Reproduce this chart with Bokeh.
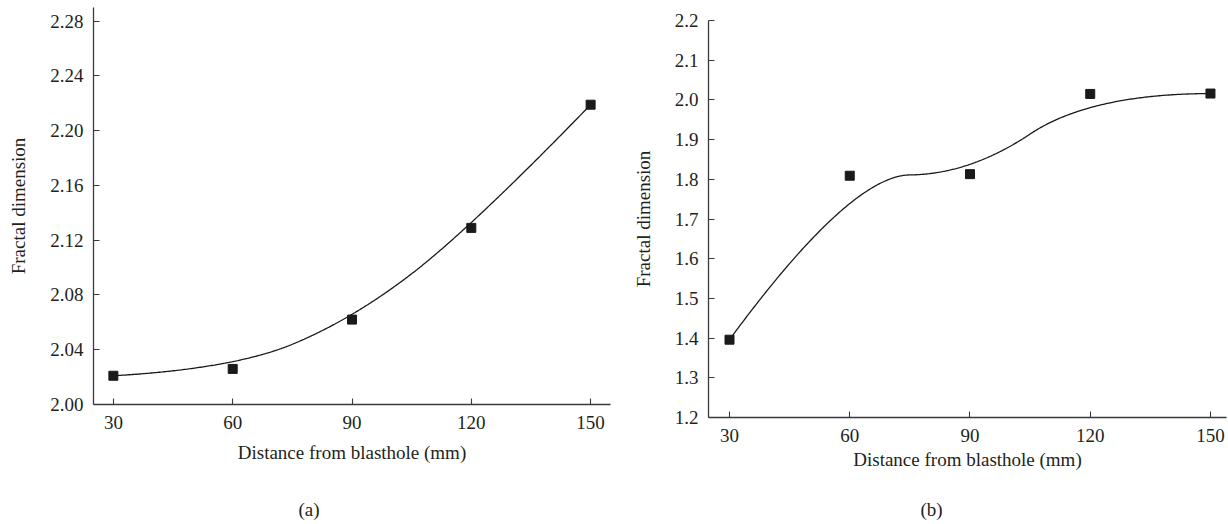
import numpy as np
from bokeh.plotting import figure
from bokeh.layouts import row, column
from bokeh.models import FixedTicker, NumeralTickFormatter, Range1d, Title
from bokeh.embed import file_html
from bokeh.resources import INLINE

# ---- data ----
distance = [30, 60, 90, 120, 150]
fractal_a = [2.021, 2.026, 2.062, 2.129, 2.219]
fractal_b = [1.396, 1.809, 1.813, 2.015, 2.016]
x_ticks = [30, 60, 90, 120, 150]
y_ticks_a = [2.00, 2.04, 2.08, 2.12, 2.16, 2.20, 2.24, 2.28]
y_ticks_b = [1.2, 1.3, 1.4, 1.5, 1.6, 1.7, 1.8, 1.9, 2.0, 2.1, 2.2]
x_title = "Distance from blasthole (mm)"
y_title = "Fractal dimension"
panel_labels = ["(a)", "(b)"]

FONT = "Liberation Serif"
TXT = "#231f20"
FS = "19px"


def bspline(xs, ys, degree=2, n=400):
    """Clamped B-spline using the data points as control points (smooth connection line)."""
    P = np.column_stack([xs, ys]).astype(float)
    m = len(P)
    inner = np.linspace(0, 1, m - degree + 1)
    knots = np.concatenate([[0.0] * degree, inner, [1.0] * degree])
    t = np.linspace(0, 1, n)
    nk = len(knots) - 1
    B = np.zeros((n, nk))
    for i in range(nk):
        B[:, i] = ((knots[i] <= t) & (t < knots[i + 1])).astype(float)
    last = np.where(knots[:-1] < knots[1:])[0][-1]
    B[t >= knots[-1], :] = 0
    B[t >= knots[-1], last] = 1
    for d in range(1, degree + 1):
        Bn = np.zeros((n, nk - d))
        for i in range(nk - d):
            a = knots[i + d] - knots[i]
            b = knots[i + d + 1] - knots[i + 1]
            term = np.zeros(n)
            if a > 0:
                term += (t - knots[i]) / a * B[:, i]
            if b > 0:
                term += (knots[i + d + 1] - t) / b * B[:, i + 1]
            Bn[:, i] = term
        B = Bn
    C = B @ P
    return C[:, 0], C[:, 1]


def style(p, yticks, yfmt, xl_standoff):
    p.outline_line_color = None
    p.grid.visible = False
    p.background_fill_color = "white"
    p.border_fill_color = "white"
    p.xaxis.ticker = FixedTicker(ticks=x_ticks)
    p.yaxis.ticker = FixedTicker(ticks=yticks)
    p.yaxis.formatter = NumeralTickFormatter(format=yfmt)
    for ax in (p.xaxis, p.yaxis):
        ax.axis_line_color = "#3a3a3a"
        ax.axis_line_width = 1.3
        ax.major_tick_line_color = "#3a3a3a"
        ax.major_tick_line_width = 1.1
        ax.major_tick_in = 6
        ax.major_tick_out = 0
        ax.minor_tick_line_color = None
        ax.major_label_text_font = FONT
        ax.major_label_text_font_size = FS
        ax.major_label_text_color = TXT
        ax.axis_label_text_font = FONT
        ax.axis_label_text_font_size = FS
        ax.axis_label_text_font_style = "normal"
        ax.axis_label_text_color = TXT
    p.xaxis.axis_label = x_title
    p.yaxis.axis_label = y_title
    p.xaxis.major_label_standoff = 11
    p.xaxis.axis_label_standoff = xl_standoff
    p.yaxis.major_label_standoff = 10
    p.yaxis.axis_label_standoff = 18


def add_panel_label(p, text, offset, gap):
    # blank spacer, then the panel letter
    p.add_layout(Title(text=" ", standoff=gap, text_font=FONT, text_font_size=FS), "below")
    p.add_layout(Title(text=text, align="left", offset=offset, standoff=0,
                       text_font=FONT, text_font_size=FS, text_font_style="normal",
                       text_color=TXT), "below")


# ---- panel (a) ----
pa = figure(width=620, height=522, x_range=Range1d(25, 155), y_range=Range1d(2.0, 2.29),
            output_backend="svg", toolbar_location=None,
            min_border_left=93, min_border_right=10, min_border_top=7, min_border_bottom=118)
style(pa, y_ticks_a, "0.00", 10)
cx, cy = bspline(distance, fractal_a)
pa.line(cx, cy, line_color="#1a1a1a", line_width=1.3)
pa.scatter(distance, fractal_a, marker="square", size=9, fill_color="#1a1a1a", line_color="#1a1a1a")
add_panel_label(pa, panel_labels[0], 205, 8)

# ---- panel (b) ----
pb = figure(width=608, height=522, x_range=Range1d(24.76, 154), y_range=Range1d(1.2, 2.2),
            output_backend="svg", toolbar_location=None,
            min_border_left=88, min_border_right=2, min_border_top=20, min_border_bottom=105)
style(pb, y_ticks_b, "0.0", 4)
cx, cy = bspline(distance, fractal_b)
pb.line(cx, cy, line_color="#1a1a1a", line_width=1.3)
pb.scatter(distance, fractal_b, marker="square", size=9, fill_color="#1a1a1a", line_color="#1a1a1a")
add_panel_label(pb, panel_labels[1], 212, 1)

layout = row(column(pa), column(pb), spacing=0)
open("out.html", "w").write(file_html(layout, INLINE))
